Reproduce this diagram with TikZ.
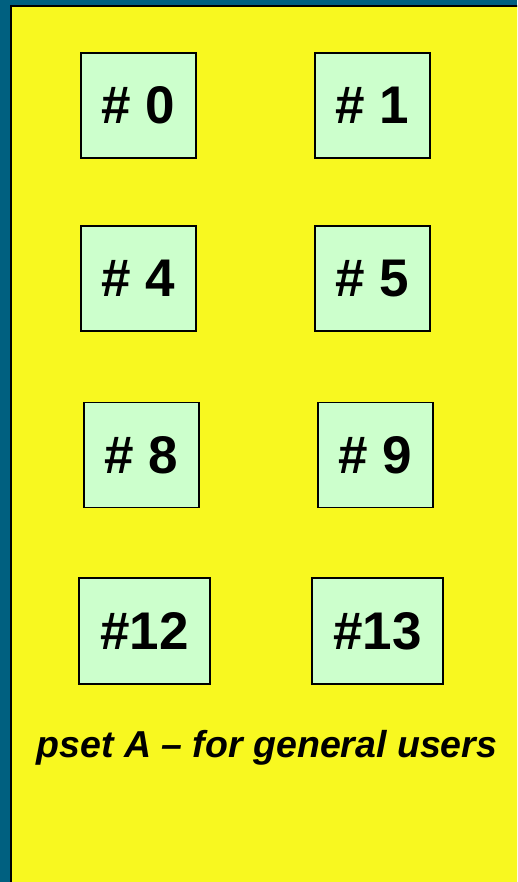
\documentclass[tikz,border=0pt]{standalone}
\usepackage{fontspec}
\setmainfont{Liberation Sans}
\usetikzlibrary{positioning}

\definecolor{slideteal}{RGB}{0,96,128}
\definecolor{slideyellow}{RGB}{248,248,32}
\definecolor{procgreen}{RGB}{204,255,204}

\begin{document}
\begin{tikzpicture}[
  x=1pt, y=-1pt,
  proc/.style={draw, line width=1.6pt, fill=procgreen, inner sep=0pt,
               minimum width=115pt, minimum height=105pt,
               font=\fontsize{53}{53}\selectfont\bfseries},
  wide/.style={proc, minimum width=131pt, minimum height=106pt},
  caption/.style={font=\fontsize{37.5}{37.5}\selectfont\bfseries\itshape}
]
  % slide background
  \useasboundingbox (0,0) rectangle (517,882);
  \clip (0,0) rectangle (517,882);
  \fill[slideteal] (0,0) rectangle (517,882);
  \draw[line width=1.6pt, fill=slideyellow] (11,6) rectangle (530,900);

  % processor boxes
  \node[proc] (b0) at (138.5,105.5) {\# 0};
  \node[proc] (b1) at (372.5,105.5) {\# 1};

  \node[proc] (b4) at (138.5,278.5) {\# 4};
  \node[proc] (b5) at (372.5,278.5) {\# 5};

  \node[proc] (b8) at (141.5,455) {\# 8};
  \node[proc] (b9) at (375.5,455) {\# 9};

  \node[wide] (b12) at (144.5,631) {\#12};
  \node[wide] (b13) at (377.5,631) {\#13};

  \node[caption, anchor=base] (pset) at (267,757) {pset A -- for general users};
\end{tikzpicture}
\end{document}
